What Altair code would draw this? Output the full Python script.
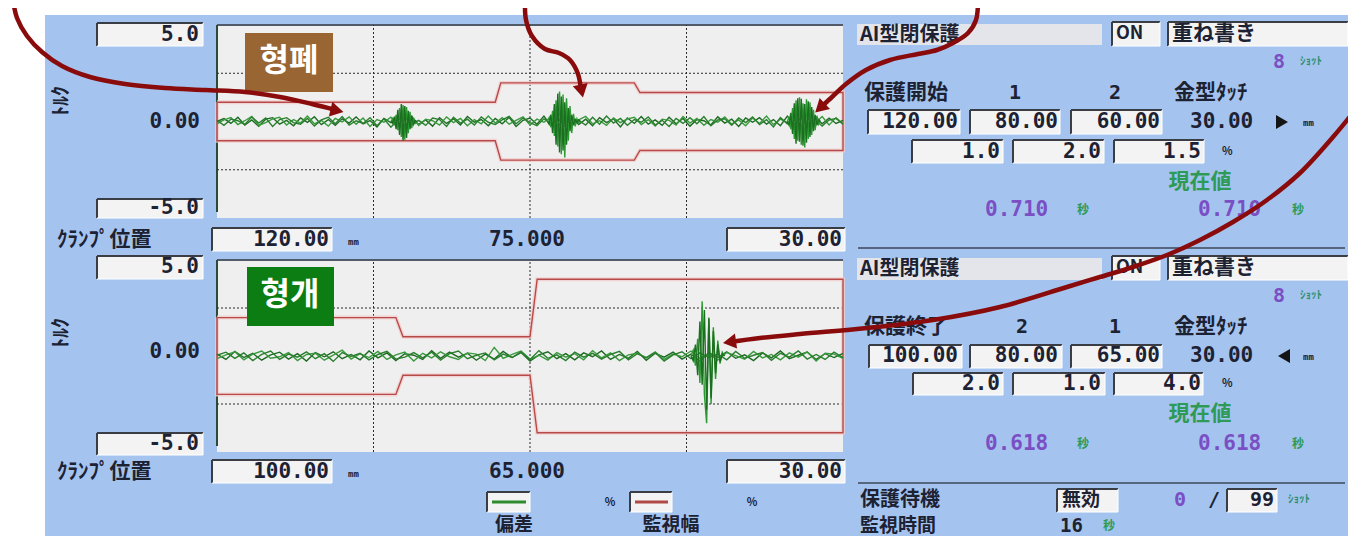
import altair as alt
import pandas as pd
import numpy as np

# ---------------- page geometry ----------------
OX, OY = 8, 8
W, H = 1340, 528

# ---------------- chart values ----------------
Y_LIMITS = [-5.0, 5.0]
Y_GRID = [-2.5, 2.5]

CLOSE_POSITIONS = [120.0, 80.0, 60.0, 30.0]   # 保護開始, 1, 2, 金型タッチ (mm)
CLOSE_WIDTHS = [1.0, 2.0, 1.5]                # 監視幅 %
OPEN_POSITIONS = [100.0, 80.0, 65.0, 30.0]    # 保護終了, 2, 1, 金型タッチ (mm)
OPEN_WIDTHS = [2.0, 1.0, 4.0]
RAMP_MM = 0.8

# deviation traces (1/100 %) sampled every 1 mm from left edge to right edge
CLOSE_TRACE_1 = [0, 15, -10, 22, -18, 8, -25, 12, 20, -14, 6, -22, 18, -5, 25, -16, 10, -20, 14, -8,
                 24, -12, 5, -28, 16, -6, 30, -20, 12, -15, 8, -24, 20, -10, 14, -18, 26, -4, 10, -22,
                 16, -12, 22, -26, 6, 18, -14, 28, -20, 10, -8, 24, -16, 12, -22, 20, -6, 14, -28, 18,
                 -10, 26, -14, 8, -20, 22, -12, 16, -24, 10, 4, -18, 24, -8, 12, -26, 18, -4, 20, -14,
                 10, -22, 28, -16, 20, -30, 24, -12, 18, -10, 6]
CLOSE_TRACE_2 = [-12, 8, 20, -16, 4, 26, -20, -6, 14, 22, -18, 10, -8, 28, -12, 6, -24, 16, -2, 24,
                 -14, 18, -26, 10, -4, 22, -16, 8, 26, -20, 12, 4, -18, 24, -6, 16, -22, 10, -12, 28,
                 -8, 20, -14, 6, 24, -18, 12, -4, 22, -26, 16, -10, 8, 26, -12, 4, -20, 18, -6, 14,
                 22, -16, 10, -24, 12, 6, -18, 26, -8, 16, -20, 10, -4, 24, -14, 8, -22, 18, -10, 28,
                 -16, 12, -6, 22, -24, 14, -8, 26, -18, 20, -12]
CLOSE_TRACE_3 = [6, -20, 12, 4, -16, 24, -8, 18, -26, 10, 20, -6, -14, 16, -24, 8, 22, -12, 26, -18,
                 4, -10, 20, -22, 14, -30, 8, 24, -16, 6, -20, 18, 10, -26, 22, -8, 12, -18, 24, -4,
                 -16, 8, 26, -12, 18, -6, -22, 14, -10, 20, -24, 12, 6, -18, 22, -14, 28, -8, 16, -20,
                 10, -4, 24, -18, 6, -26, 16, -10, 20, -12, 26, -22, 8, 14, -20, 18, -6, 24, -16, 10,
                 -28, 20, -12, 6, 22, -18, 12, -24, 8, 16, -14]

OPEN_TRACE_1 = [10, -18, 24, -8, 14, -22, 6, 20, -16, 12, -26, 18, -4, 22, -14, 8, -20, 26, -10, 16,
                -24, 12, 4, -18, 28, -12, 20, -6, 14, -22, 10, -16, 24, -8, 18, -26, 6, 22, -14, 12,
                -20, 16, -4, 26, -18, 8, -12, 24, -22, 14, -6, 20, -16, 10, -28, 18, -8, 22, -12, 6,
                -24, 16, -10, 26, -14, 4, 20, -18, 12, -8, 14]
OPEN_TRACE_2 = [-14, 6, 22, -20, 10, 26, -12, -4, 18, -24, 8, 14, -22, 4, 30, -16, 12, -8, 24, -18,
                6, 20, -26, 14, -10, 22, -4, -18, 16, 10, -24, 45, -12, 8, 26, -16, 4, -22, 18, -6,
                12, -20, 28, -10, 16, -24, 6, 14, -8, 22, -18, 10, -4, 26, -14, 12, -22, 18, 2, -16,
                24, -10, 8, -20, 16, -6, 22, -26, 14, 10, -12]
OPEN_TRACE_3 = [4, 20, -12, 16, -24, 8, 26, -18, 10, -6, 22, -14, 12, -28, 18, -2, 14, -20, 8, 24,
                -16, -6, 18, -10, 20, -22, 12, 26, -14, 4, 16, -20, 10, -8, 22, -18, 28, -12, 6, -24,
                20, -6, 14, -16, 8, 24, -20, 12, -10, 18, -26, 6, 22, -14, 16, -8, 10, -20, 24, -12,
                4, 18, -22, 14, -6, 26, -16, 8, -18, 20, -8]

# vibration bursts (1/100 %), sampled every 0.25 mm starting at the given position
BURST_STEP = 0.25
CLOSE_BURST_1_START = 95.0
CLOSE_BURST_1A = [0, 15, -20, 35, -45, 70, -80, 85, -95, 75, -60, 50, -35, 20, -10, 0]
CLOSE_BURST_1B = [0, -10, 25, -40, 60, -70, 90, -100, 80, -85, 55, -40, 30, -15, 5, 0]
CLOSE_BURST_2_START = 72.5
CLOSE_BURST_2A = [0, 20, -30, 55, -75, 110, -130, 155, -170, 140, -187, 120, -100, 80, -60, 40, -25, 15, -5, 0]
CLOSE_BURST_2B = [0, -15, 35, -60, 90, -120, 145, -160, 130, -150, 100, -120, 70, -50, 35, -20, 10, -5, 8, 0]
CLOSE_BURST_3_START = 38.0
CLOSE_BURST_3A = [0, 25, -40, 70, -90, 110, -100, 125, -120, 95, -135, 115, -90, 100, -70, 60, -45, 30, -15, 0]
CLOSE_BURST_3B = [0, -20, 45, -65, 95, -115, 120, -105, 118, -125, 90, -110, 105, -80, 75, -50, 35, -20, 10, 0]
OPEN_BURST_START = 47.0
OPEN_BURST_A = [0, 30, -50, 90, -140, 285, -200, -350, 200, -250, 150, -120, 80, -40, 20, 0]
OPEN_BURST_B = [0, -25, 60, -100, 180, -150, 240, -280, 195, -220, 130, -90, 60, -30, 10, 0]

# ---------------- styles ----------------
BLUE = "#a4c4ef"
PLOT_BG = "#efefef"
BOX_BG = "#f3f3f3"
FIELD_BG = "#e4e5ea"
DARK = "#1d2233"
PURPLE = "#7b4fc4"
GREEN_T = "#2f9a55"
TEAL = "#2d8f73"
ARROW = "#8a0b0b"
JP = "Noto Sans CJK JP"
KR = "Noto Sans CJK KR"
MONO = "DejaVu Sans Mono"

CX = alt.Scale(domain=[OX, OX + W], range=[0, W], nice=False, zero=False)
CY = alt.Scale(domain=[OY, OY + H], range=[0, H], nice=False, zero=False)


def cX(f):
    return alt.X(f"{f}:Q", scale=CX, axis=None)


def cY(f):
    return alt.Y(f"{f}:Q", scale=CY, axis=None)


# ---------------- layout (page pixels) ----------------
TOP_PLOT = (217, 25, 843, 218)
BOT_PLOT = (217, 260, 843, 452)

SUNKEN_BOXES = [
    (97, 23, 203, 46), (97, 199, 203, 218), (212, 228, 332, 251), (727, 228, 845, 251),
    (97, 256, 203, 279), (97, 433, 203, 455), (212, 460, 332, 483), (727, 460, 845, 483),
    (487, 492, 530, 512), (630, 492, 672, 512),
    (1112, 22, 1160, 46), (1168, 22, 1348, 46),
    (868, 110, 960, 134), (970, 110, 1060, 134), (1071, 110, 1162, 134),
    (912, 140, 1003, 163), (1013, 140, 1104, 163), (1114, 140, 1204, 163),
    (1112, 256, 1160, 280), (1168, 256, 1348, 280),
    (869, 345, 962, 368), (970, 345, 1062, 368), (1071, 345, 1162, 368),
    (913, 373, 1003, 395), (1013, 373, 1105, 395), (1114, 373, 1203, 395),
    (1057, 489, 1118, 512), (1227, 489, 1277, 512),
]
FIELDS = [(857, 24, 1102, 45), (857, 258, 1102, 280)]

rects = [dict(x=45, y=15, x2=1353, y2=544, f=BLUE)]
for (a, b, c, d) in [TOP_PLOT, BOT_PLOT]:
    rects.append(dict(x=a, y=b, x2=c, y2=d, f=PLOT_BG))
for (a, b, c, d) in FIELDS:
    rects.append(dict(x=a, y=b, x2=c, y2=d, f=FIELD_BG))
for (a, b, c, d) in SUNKEN_BOXES:
    rects.append(dict(x=a, y=b, x2=c, y2=d, f=BOX_BG))
df_rect = pd.DataFrame(rects)

rules = []
for (a, b, c, d) in SUNKEN_BOXES:
    rules += [dict(x=a, y=b, x2=c, y2=b, c="#3a3d44", w=2),
              dict(x=a, y=b, x2=a, y2=d, c="#3a3d44", w=2),
              dict(x=a, y=d, x2=c, y2=d, c="#ffffff", w=1),
              dict(x=c, y=b, x2=c, y2=d, c="#ffffff", w=1)]
for (a, b, c, d) in [TOP_PLOT, BOT_PLOT]:
    rules += [dict(x=a, y=b, x2=c, y2=b, c="#505a68", w=2),
              dict(x=a, y=b, x2=a, y2=d - 6, c="#2c4a3c", w=2)]
rules += [dict(x=858, y=248, x2=1345, y2=248, c="#56667e", w=2),
          dict(x=858, y=483, x2=1345, y2=483, c="#56667e", w=2),
          dict(x=492, y=502, x2=526, y2=502, c="#2e8b2e", w=3),
          dict(x=635, y=502, x2=668, y2=502, c="#b04a46", w=3)]
df_rule = pd.DataFrame(rules)

# text: (text, x, y, align, font, size, color, angle)
T = []
def t(s, x, y, align="left", font=JP, size=21, color=DARK, angle=0):
    T.append(dict(t=s, x=x, y=y, al=align, fo=font, s=size, c=color, an=angle))

for dy, lbl, c0, c1 in [(0, "120.00", "75.000", "30.00"), (232, "100.00", "65.000", "30.00")]:
    t("5.0", 199, 35 + dy, "right", MONO)
    t("0.00", 200, 122 + dy - (2 if dy else 0), "right", MONO)
    t("-5.0", 199, 208 + dy + (4 if dy else 0), "right", MONO)
    t("ﾄﾙｸ", 62, 100 + dy + 1, "center", JP, 20, DARK, 270)
    t("ｸﾗﾝﾌﾟ位置", 57, 240 + dy, "left", JP, 21)
    t(lbl, 329, 240 + dy, "right", MONO)
    t("mm", 348, 242 + dy, "left", MONO, 9)
    t(c0, 527, 240 + dy, "center", MONO)
    t(c1, 842, 240 + dy, "right", MONO)
t("%", 610, 503, "center", JP, 11)
t("%", 752, 503, "center", JP, 11)
t("偏差", 514, 525, "center", JP, 19)
t("監視幅", 671, 525, "center", JP, 19)

panels = [
    (0, "保護開始", ["1", "2"], [1015, 1115], ["120.00", "80.00", "60.00"], ["1.0", "2.0", "1.5"], "0.710"),
    (234, "保護終了", ["2", "1"], [1022, 1115], ["100.00", "80.00", "65.00"], ["2.0", "1.0", "4.0"], "0.618"),
]
for dy, title, idx, idx_x, pos, pct, cur in panels:
    t("AI型閉保護", 860, 35 + dy, "left", JP, 20)
    t("ON", 1116, 34 + dy, "left", JP, 18)
    t("重ね書き", 1172, 34 + dy, "left", JP, 21)
    t("8", 1279, 62 + dy, "center", MONO, 20, PURPLE)
    t("ｼｮｯﾄ", 1300, 62 + dy, "left", JP, 11, TEAL)
    t(title, 864, 93 + dy, "left", JP, 21)
    t(idx[0], idx_x[0], 93 + dy, "center", MONO, 20)
    t(idx[1], idx_x[1], 93 + dy, "center", MONO, 20)
    t("金型ﾀｯﾁ", 1174, 93 + dy, "left", JP, 21)
    for v, xr in zip(pos, [958, 1058, 1160]):
        t(v, xr, 122 + dy, "right", MONO)
    t("30.00", 1190, 122 + dy, "left", MONO)
    t("mm", 1303, 123 + dy, "left", MONO, 9)
    for v, xr in zip(pct, [1000, 1101, 1201]):
        t(v, xr, 152 + dy - (2 if dy else 0), "right", MONO)
    t("%", 1222, 152 + dy - (2 if dy else 0), "left", JP, 11)
    t("現在値", 1200, 182 + dy - 2 * (1 if dy else 0), "center", JP, 21, GREEN_T)
    t(cur, 985, 210 + dy, "left", MONO, 21, PURPLE)
    t("秒", 1077, 210 + dy, "left", JP, 12, GREEN_T)
    t(cur, 1198, 210 + dy, "left", MONO, 21, PURPLE)
    t("秒", 1292, 210 + dy, "left", JP, 12, GREEN_T)

t("保護待機", 860, 500, "left", JP, 20)
t("無効", 1062, 500, "left", JP, 19)
t("0", 1180, 500, "center", MONO, 20, PURPLE)
t("/", 1214, 500, "center", MONO, 20)
t("99", 1274, 500, "right", MONO, 20)
t("ｼｮｯﾄ", 1288, 500, "left", JP, 11, TEAL)
t("監視時間", 860, 526, "left", JP, 19)
t("16", 1060, 526, "left", MONO, 19)
t("秒", 1103, 526, "left", JP, 12, GREEN_T)
df_text = pd.DataFrame(T)

TRIANGLES = pd.DataFrame([dict(x=1282, y=122, sh="triangle-right"),
                          dict(x=1284, y=356, sh="triangle-left")])

LABELS = pd.DataFrame([dict(x=245, y=33, x2=333, y2=92, f="#996633", t="형폐", tx=289, ty=61),
                       dict(x=247, y=267, x2=334, y2=326, f="#0b7d12", t="형개", tx=290, ty=295)])

ARROW_PATHS = {
    "a1": [(13, 0), (17, 18), (27, 36), (42, 52), (62, 66), (90, 77), (125, 84), (165, 88),
           (205, 90), (245, 92), (280, 97), (312, 104), (336, 110)],
    "a2": [(525, 0), (526, 20), (532, 36), (545, 49), (559, 53), (570, 60), (578, 74), (581, 90)],
    "a3": [(978, 0), (976, 20), (968, 33), (953, 43), (937, 50), (918, 54), (890, 60), (866, 70),
           (846, 84), (831, 98), (821, 107)],
    "a4": [(1360, 104), (1333, 137), (1300, 173), (1267, 200), (1233, 222), (1200, 240), (1167, 255),
           (1133, 267), (1100, 277), (1067, 287), (1000, 307), (933, 320), (867, 328), (800, 334),
           (760, 338), (730, 342)],
}
ARROW_HEADS = pd.DataFrame([dict(x=337, y=110.6, a=103), dict(x=581.6, y=91, a=168),
                            dict(x=820, y=108, a=227), dict(x=729.5, y=342, a=262)])
df_arrow = pd.DataFrame([dict(a=k, i=i, x=p[0], y=p[1])
                         for k, pts in ARROW_PATHS.items() for i, p in enumerate(pts)])


# ---------------- plot panels ----------------
def envelope(pos, widths):
    upper = []
    for k, w in enumerate(widths):
        start = pos[k] if k == 0 else pos[k] - RAMP_MM
        upper += [(start, w), (pos[k + 1], w)]
    lower = [(m, -w) for (m, w) in reversed(upper)]
    pts = upper + lower + [upper[0]]
    return pd.DataFrame([dict(i=i, mm=m, v=v) for i, (m, v) in enumerate(pts)])


def plot_layers(pos, widths, traces, bursts, box):
    left, top, right, bottom = box
    lo, hi = min(pos), max(pos)
    xs = alt.Scale(domain=[lo, hi], range=[right - OX, left - OX], nice=False, zero=False)
    ys = alt.Scale(domain=Y_LIMITS, range=[bottom - OY, top - OY], nice=False, zero=False)
    X = lambda f: alt.X(f"{f}:Q", scale=xs, axis=None)
    Y = lambda f: alt.Y(f"{f}:Q", scale=ys, axis=None)

    vgrid = pd.DataFrame(dict(mm=[hi - (hi - lo) * k / 4 for k in (1, 2, 3)],
                              y0=Y_LIMITS[0], y1=Y_LIMITS[1]))
    hgrid = pd.DataFrame(dict(v=Y_GRID, x0=lo, x1=hi))
    env = envelope(pos, widths)

    rows = []
    colors = ["#1d6a22", "#3a9a3e", "#2a7f2e"]
    for s, vals in enumerate(traces):
        mm = np.linspace(hi, lo, len(vals))
        for i, (m, v) in enumerate(zip(mm, vals)):
            rows.append(dict(s=f"t{s}", i=i, mm=m, v=v / 100.0, c=colors[s % 3]))
    bcolors = ["#2a9a30", "#1c6e20"]
    for b, (start, vals) in enumerate(bursts):
        for i, v in enumerate(vals):
            rows.append(dict(s=f"b{b}", i=i, mm=start - BURST_STEP * i, v=v / 100.0, c=bcolors[b % 2]))
    sig = pd.DataFrame(rows)

    return [
        alt.Chart(vgrid).mark_rule(color="#2a2a2a", strokeWidth=1, strokeDash=[2, 2]).encode(
            x=X("mm"), y=Y("y0"), y2="y1"),
        alt.Chart(hgrid).mark_rule(color="#2a2a2a", strokeWidth=1, strokeDash=[2, 2]).encode(
            y=Y("v"), x=X("x0"), x2="x1"),
        alt.Chart(env).mark_line(color="#f2cccc", strokeWidth=4, opacity=0.8).encode(
            x=X("mm"), y=Y("v"), order="i:Q"),
        alt.Chart(env).mark_line(color="#b54a48", strokeWidth=1.4).encode(
            x=X("mm"), y=Y("v"), order="i:Q"),
        alt.Chart(sig).mark_line(strokeWidth=1.4).encode(
            x=X("mm"), y=Y("v"), detail="s:N", order="i:Q",
            color=alt.Color("c:N", scale=None)),
    ]


close_layers = plot_layers(
    CLOSE_POSITIONS, CLOSE_WIDTHS,
    [CLOSE_TRACE_1, CLOSE_TRACE_2, CLOSE_TRACE_3],
    [(CLOSE_BURST_1_START, CLOSE_BURST_1A), (CLOSE_BURST_1_START, CLOSE_BURST_1B),
     (CLOSE_BURST_2_START, CLOSE_BURST_2A), (CLOSE_BURST_2_START, CLOSE_BURST_2B),
     (CLOSE_BURST_3_START, CLOSE_BURST_3A), (CLOSE_BURST_3_START, CLOSE_BURST_3B)],
    TOP_PLOT)
open_layers = plot_layers(
    OPEN_POSITIONS, OPEN_WIDTHS,
    [OPEN_TRACE_1, OPEN_TRACE_2, OPEN_TRACE_3],
    [(OPEN_BURST_START, OPEN_BURST_A), (OPEN_BURST_START, OPEN_BURST_B)],
    BOT_PLOT)

# ---------------- canvas layers ----------------
rect_layer = alt.Chart(df_rect).mark_rect().encode(
    x=cX("x"), x2="x2", y=cY("y"), y2="y2", fill=alt.Fill("f:N", scale=None))
rule_layer = alt.Chart(df_rule).mark_rule().encode(
    x=cX("x"), x2="x2", y=cY("y"), y2="y2",
    color=alt.Color("c:N", scale=None), strokeWidth=alt.StrokeWidth("w:Q", scale=None))

text_layers = []
for (al, fo, an), g in df_text.groupby(["al", "fo", "an"]):
    text_layers.append(
        alt.Chart(g.reset_index(drop=True)).mark_text(
            align=al, baseline="middle", font=fo, fontWeight="bold", angle=int(an)).encode(
            x=cX("x"), y=cY("y"), text="t:N",
            color=alt.Color("c:N", scale=None), size=alt.Size("s:Q", scale=None)))

tri_layers = [
    alt.Chart(TRIANGLES.iloc[[k]].reset_index(drop=True)).mark_point(
        shape=TRIANGLES.iloc[k]["sh"], filled=True, size=190, color="#151515", opacity=1).encode(
        x=cX("x"), y=cY("y"))
    for k in range(len(TRIANGLES))
]

label_rect = alt.Chart(LABELS).mark_rect().encode(
    x=cX("x"), x2="x2", y=cY("y"), y2="y2", fill=alt.Fill("f:N", scale=None))
label_text = alt.Chart(LABELS).mark_text(
    font=KR, fontWeight="bold", fontSize=32, color="white", align="center", baseline="middle").encode(
    x=cX("tx"), y=cY("ty"), text="t:N")

arrow_lines = alt.Chart(df_arrow).mark_line(
    color=ARROW, strokeWidth=4.5, interpolate="catmull-rom", strokeCap="round").encode(
    x=cX("x"), y=cY("y"), detail="a:N", order="i:Q")
arrow_heads = alt.Chart(ARROW_HEADS).mark_point(
    shape="triangle-up", filled=True, size=230, color=ARROW, opacity=1).encode(
    x=cX("x"), y=cY("y"), angle=alt.Angle("a:Q", scale=None))

chart = alt.layer(
    rect_layer, rule_layer, *close_layers, *open_layers, *text_layers, *tri_layers,
    label_rect, label_text, arrow_lines, arrow_heads,
).resolve_scale(
    x="independent", y="independent"
).properties(
    width=W, height=H, padding=0, background="white",
    autosize=alt.AutoSizeParams(type="none"),
).configure_view(stroke=None)

chart.save("out.html", embed_options={"renderer": "svg", "actions": False})
